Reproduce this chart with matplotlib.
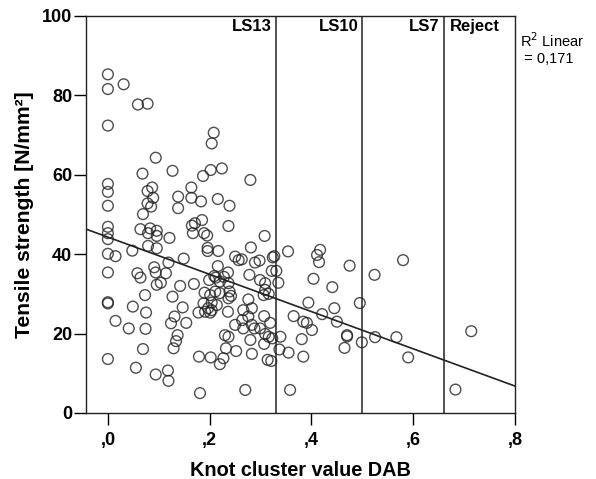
import matplotlib
matplotlib.use("Agg")
import matplotlib.pyplot as plt

plt.rcParams['font.family'] = ['Liberation Sans', 'DejaVu Sans']

# knot cluster value DAB
knot = [
    0.00, 0.00, 0.031, 0.059, 0.078, 0.00, 0.094, 0.068, 0.127, 0.187,
    0.00, 0.00, 0.00, 0.087, 0.078, 0.089, 0.078, 0.085, 0.069, 0.138,
    0.138, 0.164, 0.164, 0.183, 0.00, 0.00, 0.00, 0.064, 0.083, 0.079,
    0.096, 0.096, 0.121, 0.165, 0.171, 0.167, 0.185, 0.189, 0.208, 0.204,
    0.202, 0.224, 0.280, 0.216, 0.239, 0.237, 0.195, 0.308, 0.281, 0.354,
    0.196, 0.196, 0.217, 0.00, 0.015, 0.048, 0.079, 0.096, 0.00, 0.058,
    0.064, 0.091, 0.094, 0.114, 0.119, 0.149, 0.096, 0.104, 0.142, 0.169,
    0.00, 0.00, 0.073, 0.049, 0.075, 0.127, 0.147, 0.131, 0.124, 0.154,
    0.015, 0.041, 0.074, 0.137, 0.134, 0.129, 0.069, 0.00, 0.055, 0.094,
    0.118, 0.119, 0.250, 0.257, 0.263, 0.289, 0.298, 0.327, 0.324, 0.216,
    0.236, 0.278, 0.322, 0.331, 0.209, 0.212, 0.199, 0.220, 0.228, 0.237,
    0.299, 0.309, 0.335, 0.190, 0.201, 0.211, 0.220, 0.239, 0.242, 0.237,
    0.309, 0.316, 0.306, 0.276, 0.188, 0.204, 0.214, 0.197, 0.178, 0.191,
    0.201, 0.204, 0.236, 0.266, 0.283, 0.276, 0.307, 0.365, 0.250, 0.266,
    0.283, 0.288, 0.299, 0.319, 0.264, 0.230, 0.237, 0.280, 0.309, 0.316,
    0.339, 0.323, 0.232, 0.252, 0.283, 0.307, 0.337, 0.355, 0.179, 0.202,
    0.227, 0.220, 0.314, 0.321, 0.181, 0.270, 0.358, 0.411, 0.417, 0.415,
    0.475, 0.580, 0.524, 0.404, 0.441, 0.394, 0.495, 0.445, 0.384, 0.391,
    0.401, 0.421, 0.450, 0.381, 0.470, 0.470, 0.465, 0.499, 0.525, 0.567,
    0.590, 0.384, 0.683, 0.714,
]

# tensile strength [N/mm²]
tensile = [
    85.3, 81.6, 82.8, 77.7, 77.9, 72.4, 64.3, 60.3, 61.0, 59.7,
    57.7, 55.7, 52.2, 56.8, 55.9, 54.2, 52.8, 52.0, 50.1, 54.5,
    51.6, 56.8, 54.2, 53.3, 46.9, 45.3, 43.8, 46.3, 46.5, 45.3,
    45.9, 44.6, 44.1, 47.2, 47.8, 45.3, 48.6, 45.3, 70.6, 67.9,
    61.2, 61.6, 58.7, 53.9, 52.2, 47.1, 44.7, 44.6, 41.7, 40.7,
    41.6, 40.8, 40.8, 40.1, 39.5, 40.9, 42.1, 41.5, 35.4, 35.2,
    34.1, 36.7, 35.4, 35.2, 37.9, 38.9, 32.3, 32.8, 32.0, 32.5,
    27.9, 27.6, 29.7, 26.8, 25.3, 29.3, 26.6, 24.3, 22.6, 22.7,
    23.2, 21.3, 21.2, 19.6, 18.1, 16.3, 16.1, 13.6, 11.4, 9.7,
    10.7, 8.1, 39.4, 38.5, 38.7, 37.9, 38.4, 39.5, 39.2, 37.0,
    35.4, 34.8, 35.8, 35.8, 34.5, 34.1, 33.5, 33.1, 34.3, 32.7,
    33.5, 32.7, 32.8, 30.3, 29.7, 30.6, 30.2, 30.6, 29.5, 28.9,
    31.0, 30.0, 29.7, 28.6, 27.6, 27.8, 27.2, 26.4, 25.3, 25.5,
    25.3, 25.9, 25.5, 25.9, 26.4, 24.3, 24.4, 24.4, 22.2, 21.3,
    22.2, 21.3, 21.3, 22.7, 23.4, 19.6, 19.2, 18.4, 19.9, 19.2,
    19.2, 18.8, 16.3, 15.6, 14.9, 17.4, 16.0, 15.2, 14.2, 14.0,
    13.8, 12.3, 13.4, 13.1, 5.0, 5.8, 5.8, 39.8, 41.1, 38.0,
    37.1, 38.5, 34.8, 33.8, 31.7, 27.8, 27.7, 26.4, 23.0, 22.7,
    20.9, 24.9, 23.0, 18.6, 19.6, 19.3, 16.4, 17.8, 19.1, 19.1,
    14.0, 14.2, 5.9, 20.6,
]

# fitted linear line
fit_intercept = 44.3
fit_slope = -46.9
r2_text = "R$^2$ Linear\n = 0,171"

grade_limits = [0.33, 0.50, 0.66]
grade_labels = ["LS13", "LS10", "LS7", "Reject"]

x_ticks = [0.0, 0.2, 0.4, 0.6, 0.8]
x_tick_labels = [",0", ",2", ",4", ",6", ",8"]
y_ticks = [0, 20, 40, 60, 80, 100]

x_min, x_max = -0.043, 0.8

fig = plt.figure(figsize=(5.96, 4.79), dpi=100)
ax = fig.add_axes([0.1443, 0.1378, 0.7198, 0.8288])

ax.scatter(knot, tensile, s=60, facecolors='none', edgecolors='#222222',
           linewidths=1.0, alpha=0.8, zorder=3)

ax.plot([x_min, x_max],
        [fit_intercept + fit_slope * x_min, fit_intercept + fit_slope * x_max],
        color='#222222', lw=1.2, zorder=4)

for xv in grade_limits:
    ax.axvline(xv, color='#333333', lw=1.2, zorder=2)

# grade labels: first three sit left of their limit, the last right of it
for xv, lab in zip(grade_limits, grade_labels[:3]):
    ax.text(xv - 0.008, 99.2, lab, ha='right', va='top',
            fontsize=12, fontweight='bold')
ax.text(grade_limits[-1] + 0.013, 99.2, grade_labels[3], ha='left', va='top',
        fontsize=12, fontweight='bold')

fig.text(0.872, 0.935, r2_text, ha='left', va='top', fontsize=10.5,
         linespacing=1.2)

ax.set_xlim(x_min, x_max)
ax.set_ylim(0, 100)
ax.set_xticks(x_ticks)
ax.set_xticklabels(x_tick_labels)
ax.set_yticks(y_ticks)

ax.tick_params(axis='x', length=8.5, width=1, pad=5, labelsize=13)
ax.tick_params(axis='y', length=9, width=1, pad=1, labelsize=13)
for lab in ax.get_xticklabels() + ax.get_yticklabels():
    lab.set_fontweight('bold')

for sp in ax.spines.values():
    sp.set_linewidth(1.0)
    sp.set_color('#222222')

ax.set_xlabel("Knot cluster value DAB", fontsize=14.3, fontweight='bold',
              labelpad=9)
ax.set_ylabel("Tensile strength [N/mm²]", fontsize=15.2, fontweight='bold',
              labelpad=6)

fig.savefig("out.png", dpi=100)
